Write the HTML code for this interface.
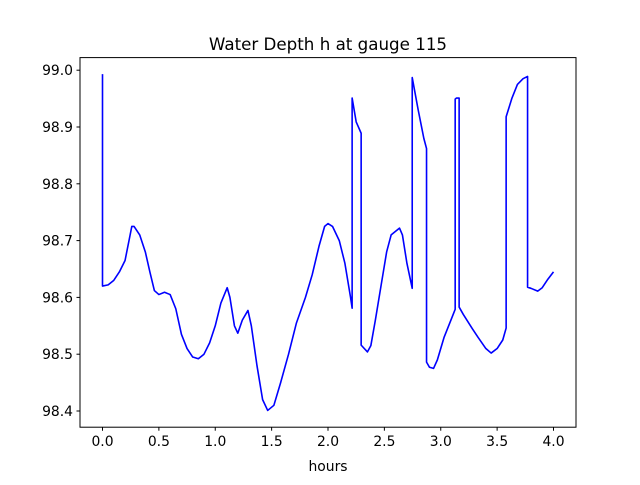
<!DOCTYPE html>
<html><head><meta charset="utf-8"><style>
body{margin:0;background:#fff}
svg text{font-family:"DejaVu Sans","Liberation Sans",sans-serif;fill:#000}
</style></head><body>
<svg id="chart" width="640" height="480" xmlns="http://www.w3.org/2000/svg">
<rect width="640" height="480" fill="#fff"/>
<text x="328" y="50" font-size="16.7" text-anchor="middle">Water Depth h at gauge 115</text>
<text x="328" y="471" font-size="13.9" text-anchor="middle">hours</text>
<g id="ticks"></g>
<polyline id="series" fill="none" stroke="#0000ff" stroke-width="1.6" stroke-linejoin="round"/>
<rect x="80" y="57.6" width="496" height="369.6" fill="none" stroke="#000" stroke-width="1"/>
</svg>
<script>
const times=[0,0,0.05,0.1,0.15,0.2,0.235,0.26,0.28,0.33,0.38,0.42,0.46,0.5,0.55,0.6,0.65,0.7,0.75,0.8,0.85,0.9,0.95,1.0,1.05,1.106,1.13,1.17,1.2,1.24,1.29,1.32,1.37,1.42,1.465,1.52,1.58,1.65,1.72,1.8,1.86,1.92,1.97,2.0,2.04,2.1,2.15,2.2,2.214,2.214,2.25,2.294,2.294,2.35,2.38,2.42,2.47,2.52,2.56,2.634,2.66,2.7,2.747,2.747,2.8,2.85,2.874,2.874,2.9,2.936,2.97,3.03,3.1,3.128,3.128,3.14,3.163,3.163,3.2,3.28,3.33,3.4,3.447,3.5,3.55,3.58,3.58,3.63,3.68,3.73,3.77,3.77,3.8,3.86,3.9,3.95,4.0];
const depths=[98.993,98.620,98.622,98.63,98.645,98.665,98.70,98.725,98.725,98.71,98.68,98.645,98.612,98.605,98.609,98.605,98.58,98.535,98.51,98.495,98.492,98.5,98.52,98.55,98.59,98.617,98.60,98.55,98.537,98.56,98.577,98.55,98.48,98.42,98.401,98.41,98.45,98.50,98.555,98.60,98.64,98.69,98.725,98.73,98.725,98.70,98.66,98.60,98.581,98.951,98.909,98.889,98.516,98.504,98.515,98.56,98.62,98.68,98.71,98.722,98.71,98.66,98.616,98.987,98.93,98.88,98.862,98.486,98.477,98.475,98.49,98.53,98.565,98.579,98.949,98.951,98.951,98.583,98.57,98.545,98.53,98.51,98.502,98.51,98.525,98.546,98.918,98.95,98.975,98.985,98.989,98.618,98.616,98.611,98.617,98.632,98.645];
const xTicks=[0,0.5,1,1.5,2,2.5,3,3.5,4];
const xTickLabels=["0.0","0.5","1.0","1.5","2.0","2.5","3.0","3.5","4.0"];
const yTicks=[98.4,98.5,98.6,98.7,98.8,98.9,99.0];
const yTickLabels=["98.4","98.5","98.6","98.7","98.8","98.9","99.0"];
const xs=t=>102.5+t*112.75;
const ys=v=>70.2+(99.0-v)*568;
const NS="http://www.w3.org/2000/svg";
const g=document.getElementById('ticks');
function mk(tag,attrs){const e=document.createElementNS(NS,tag);for(const k in attrs)e.setAttribute(k,attrs[k]);return e;}
xTicks.forEach((t,i)=>{
  const l=mk('line',{x1:xs(t),x2:xs(t),y1:427.2,y2:430.7,stroke:'#000'});
  
  
  g.appendChild(l);
  const tx=mk('text',{x:xs(t),y:446,'font-size':'13.9','text-anchor':'middle'});
  
  
  tx.textContent=xTickLabels[i];g.appendChild(tx);
});
yTicks.forEach((v,i)=>{
  const l=mk('line',{x1:76.5,x2:80,y1:ys(v),y2:ys(v),stroke:'#000'});
  
  
  g.appendChild(l);
  const tx=mk('text',{x:73,y:ys(v)+5,'font-size':'13.9','text-anchor':'end'});
  
  
  tx.textContent=yTickLabels[i];g.appendChild(tx);
});
document.getElementById('series').setAttribute('points',times.map((t,i)=>xs(t).toFixed(2)+','+ys(depths[i]).toFixed(2)).join(' '));
</script>
</body></html>
